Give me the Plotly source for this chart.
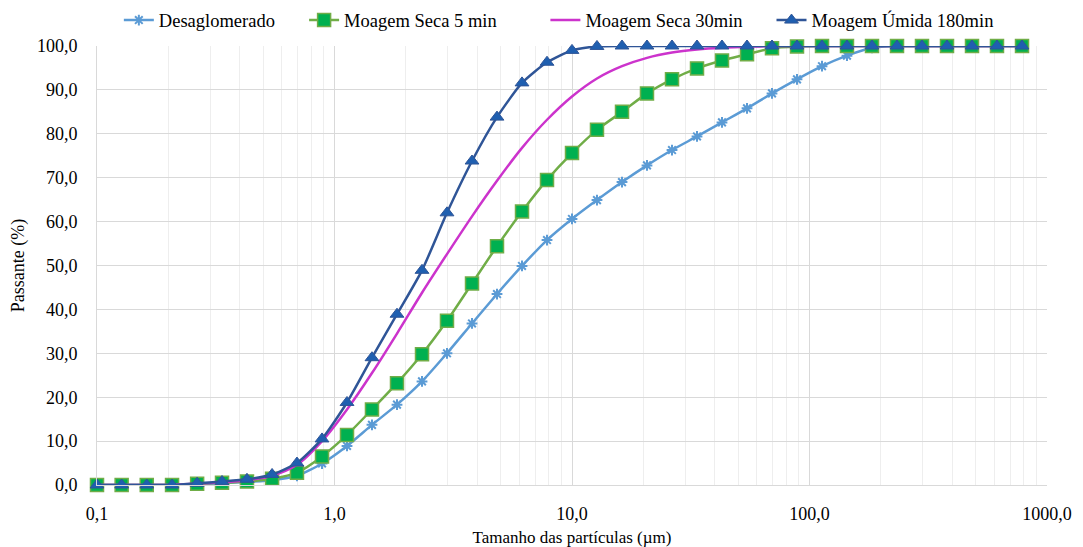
import plotly.graph_objects as go

# Particle sizes (µm)
tamanho = [0.100, 0.127, 0.162, 0.207, 0.264, 0.336, 0.428, 0.546, 0.695, 0.886,
           1.129, 1.438, 1.833, 2.336, 2.976, 3.793, 4.833, 6.159, 7.848, 10.00,
           12.74, 16.24, 20.69, 26.37, 33.60, 42.81, 54.56, 69.52, 88.59, 112.9,
           143.8, 183.3, 233.6, 297.6, 379.3, 483.3, 615.8, 784.8]

desaglomerado = [0.0, 0.0, 0.0, 0.0, 0.2, 0.4, 0.7, 1.1, 2.1, 4.9,
                 8.9, 13.7, 18.3, 23.6, 30.0, 36.8, 43.5, 49.9, 55.8, 60.6,
                 64.9, 69.0, 72.8, 76.3, 79.4, 82.6, 85.8, 89.2, 92.4, 95.4,
                 97.8, 99.6, 100.0, 100.0, 100.0, 100.0, 100.0, 100.0]

seca_5min = [0.0, 0.0, 0.0, 0.0, 0.3, 0.5, 0.8, 1.4, 2.8, 6.5,
             11.4, 17.2, 23.2, 29.8, 37.4, 45.9, 54.4, 62.3, 69.5, 75.6,
             80.9, 85.0, 89.2, 92.4, 94.9, 96.7, 98.1, 99.5, 99.9, 100.0,
             100.0, 100.0, 100.0, 100.0, 100.0, 100.0, 100.0, 100.0]

seca_30min = [0.0, 0.0, 0.0, 0.0, 0.3, 0.6, 1.1, 2.1, 4.6, 10.0,
              17.2, 25.5, 34.5, 43.8, 52.6, 61.2, 69.3, 76.8, 83.2, 88.5,
              92.6, 95.4, 97.3, 98.5, 99.2, 99.6, 99.8, 100.0, 100.0, 100.0,
              100.0, 100.0, 100.0, 100.0, 100.0, 100.0, 100.0, 100.0]

umida_180min = [0.0, 0.0, 0.0, 0.0, 0.4, 0.8, 1.3, 2.4, 5.0, 10.5,
                18.8, 29.0, 38.9, 48.9, 62.0, 73.8, 83.8, 91.6, 96.3, 99.0,
                99.9, 100.0, 100.0, 100.0, 100.0, 100.0, 100.0, 100.0, 100.0, 100.0,
                100.0, 100.0, 100.0, 100.0, 100.0, 100.0, 100.0, 100.0]

x_tickvals = [0.1, 1, 10, 100, 1000]
x_ticktext = ["0,1", "1,0", "10,0", "100,0", "1000,0"]

FONT = "Times New Roman"

fig = go.Figure()
fig.add_trace(go.Scatter(
    x=tamanho, y=desaglomerado, name="Desaglomerado", mode="lines+markers",
    line=dict(color="#5B9BD5", width=2.5, shape="spline", smoothing=0.6),
    marker=dict(symbol="asterisk-open", size=9, line=dict(color="#5B9BD5", width=2)),
    cliponaxis=False, legend="legend"))
fig.add_trace(go.Scatter(
    x=tamanho, y=seca_5min, name="Moagem Seca 5 min", mode="lines+markers",
    line=dict(color="#70AD47", width=2.5, shape="spline", smoothing=0.6),
    marker=dict(symbol="square", size=13, color="#00B050", line=dict(color="#70AD47", width=1.5)),
    cliponaxis=False, legend="legend2"))
fig.add_trace(go.Scatter(
    x=tamanho, y=seca_30min, name="Moagem Seca 30min", mode="lines",
    line=dict(color="#CC33CC", width=2.5, shape="spline", smoothing=0.8),
    cliponaxis=False, legend="legend3"))
fig.add_trace(go.Scatter(
    x=tamanho, y=umida_180min, name="Moagem Úmida 180min", mode="lines+markers",
    line=dict(color="#2F5597", width=2.5, shape="spline", smoothing=0.6),
    marker=dict(symbol="triangle-up", size=12, color="#1F5FB0", line=dict(color="#2F5597", width=1)),
    cliponaxis=False, legend="legend4"))

def leg(x):
    return dict(orientation="h", x=x, xanchor="left", y=1.058, yanchor="middle",
                bgcolor="rgba(0,0,0,0)", font=dict(family=FONT, size=18.5, color="#000000"))

fig.update_layout(
    width=1067, height=539,
    margin=dict(l=89, r=28, t=38, b=62, autoexpand=False),
    paper_bgcolor="white", plot_bgcolor="white",
    font=dict(family=FONT, size=18, color="#000000"),
    separators=", ",
    legend=leg(0.023), legend2=leg(0.218), legend3=leg(0.472), legend4=leg(0.710),
    showlegend=True,
)
fig.update_xaxes(
    type="log", range=[-1, 3], automargin=False,
    tickvals=x_tickvals, ticktext=x_ticktext,
    showgrid=True, gridcolor="#D9D9D9", gridwidth=1,
    minor=dict(showgrid=True, gridcolor="#EEEEEE", dtick="D1", ticks=""),
    showline=True, linecolor="#D9D9D9", mirror=False,
    ticks="", zeroline=False, ticklabelstandoff=12,
    title=dict(text="Tamanho das partículas (µm)", font=dict(family=FONT, size=17), standoff=12),
    tickfont=dict(family=FONT, size=18),
)
fig.update_yaxes(
    range=[0, 100], dtick=10, tickformat=".1f", automargin=False,
    showgrid=True, gridcolor="#D9D9D9", gridwidth=1,
    showline=True, linecolor="#D9D9D9",
    ticks="", zeroline=False, ticklabelstandoff=15,
    title=dict(text="Passante (%)", font=dict(family=FONT, size=18), standoff=19),
    tickfont=dict(family=FONT, size=18),
)

fig.write_html("out.html")
